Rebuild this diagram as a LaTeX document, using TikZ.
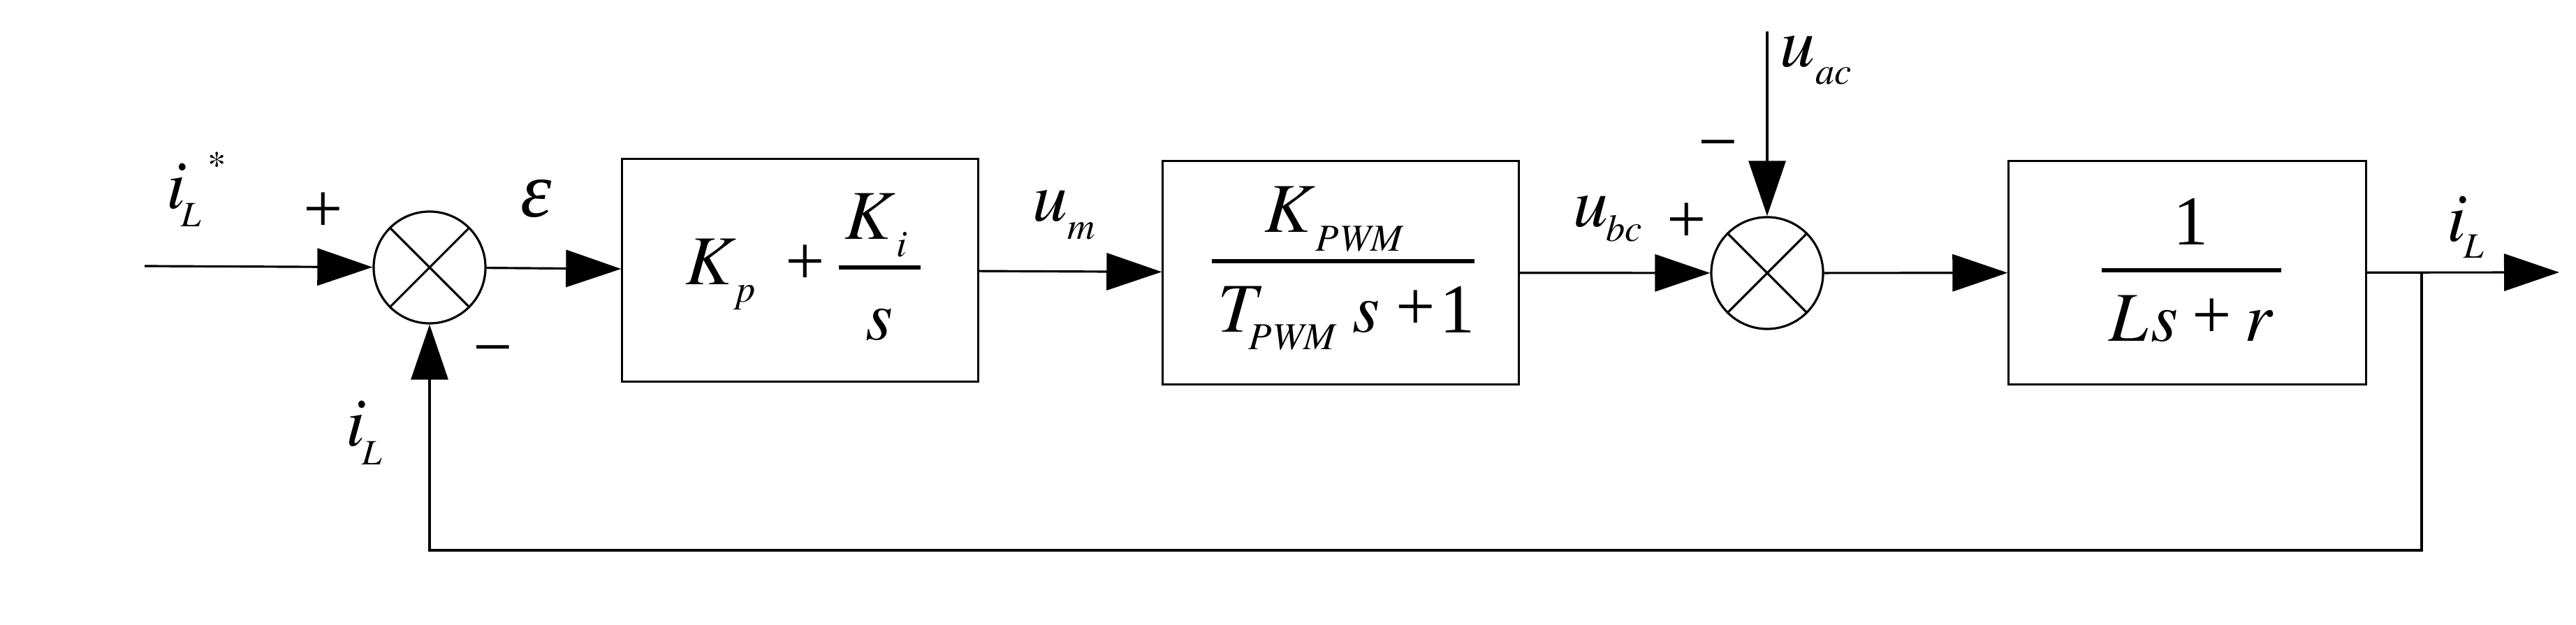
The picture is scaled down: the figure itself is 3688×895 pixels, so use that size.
\documentclass[tikz,border=0pt]{standalone}
\usepackage{fontspec}
\setmainfont{texgyretermes}[Extension=.otf,UprightFont=*-regular,ItalicFont=*-italic,BoldFont=*-bold,BoldItalicFont=*-bolditalic]
\newfontfamily\libfont{Liberation Serif}
\usetikzlibrary{arrows.meta}
\newcommand{\mainsz}{\fontsize{28.5}{28.5}\selectfont}
\newcommand{\subsz}{\fontsize{15.5}{15.5}\selectfont}
\newcommand{\Lsz}{\fontsize{14.5}{14.5}\selectfont}
\begin{document}
\begin{tikzpicture}[x=0.01cm,y=-0.01cm,
  ln/.style={line width=0.9pt},
  arr/.style={line width=0.9pt,-{Triangle[length=7.9mm,width=5.3mm]}},
  blk/.style={draw,line width=0.9pt,inner sep=0,minimum width=5.09cm,minimum height=3.19cm},
  sumj/.style={draw,circle,line width=0.9pt,inner sep=0,minimum size=1.6cm},
  txt/.style={inner sep=0,font=\mainsz\itshape,anchor=base west},
  sub/.style={inner sep=0,font=\subsz\itshape,anchor=base west},
  subL/.style={inner sep=0,font=\Lsz\itshape,anchor=base west},
  sgn/.style={inner sep=0,font=\mainsz\libfont,anchor=base},
  fbar/.style={line width=1.6pt}]
\fill[white] (0,0) rectangle (3688,895);
\useasboundingbox (0,0) rectangle (3688,895);

% blocks
\node[sumj] (s1) at (615,383) {};
\node[blk] (b1) at (1145.5,387) {};
\node[blk] (b2) at (1919.5,390.5) {};
\node[sumj] (s2) at (2530,391) {};
\node[blk,minimum width=5.11cm] (b3) at (3131.5,390.5) {};
\coordinate (in) at (207,381);
\coordinate (out) at (3664,390);
\coordinate (br) at (3467,390);
\coordinate (bl) at (615,788);
\coordinate (uacin) at (2530,45);

% crosses
\draw[ln] (s1.north west) -- (s1.south east) (s1.north east) -- (s1.south west);
\draw[ln] (s2.north west) -- (s2.south east) (s2.north east) -- (s2.south west);

% connectors
\draw[arr] (in) -- (s1);
\draw[arr] (s1) -- (b1);
\draw[arr] (b1) -- (b2);
\draw[arr] (b2) -- (s2);
\draw[arr] (s2) -- (b3);
\draw[arr] (b3) -- (out);
\draw[arr] (br) |- (bl) -- (s1);
\draw[arr] (uacin) -- (s2);

% left labels
\node[txt] (iLs) at (238,299) {i};
\node[subL] (iLsL) at (259,325) {L};
\node[inner sep=0,font=\fontsize{15}{15}\selectfont,anchor=base] (ast) at (311,254) {*};
\node[sgn] (p1) at (463,333) {+};
\node[sgn] (m1) at (706,531) {−};
\node[inner sep=0,font=\fontsize{32}{32}\selectfont\libfont\itshape,anchor=base] (eps) at (768,311) {ε};
\node[txt] (iLf) at (495,639) {i};
\node[subL] (iLfL) at (518,666) {L};

% block 1 content
\node[txt] (Kp) at (981,408) {K};
\node[sub] (Kpp) at (1054,433) {p};
\node[sgn] (b1plus) at (1153,408) {+};
\draw[fbar] (1201,383) -- (1318,383);
\node[txt] (Ki) at (1209,343) {K};
\node[sub] (Kii) at (1283,368) {i};
\node[txt,anchor=base] (sden) at (1259,487) {s};

% u_m
\node[txt] (um) at (1478,317) {u};
\node[sub] (umm) at (1528,343) {m};

% block 2 content
\draw[fbar] (1735,374) -- (2111,374);
\node[txt] (Kpwm) at (1810,333) {K};
\node[sub] (Kpwms) at (1883,360) {PWM};
\node[txt] (Tpwm) at (1743,476) {T};
\node[sub] (Tpwms) at (1787,501) {PWM};
\node[txt] (s2t) at (1936,476) {s};
\node[sgn] (plus2) at (2027,473) {+};
\node[sgn] (one2) at (2087,477) {1};

% u_bc, u_ac, signs
\node[txt] (ubc) at (2252,325) {u};
\node[sub] (ubcs) at (2299,346) {bc};
\node[sgn] (p2) at (2415,348) {+};
\node[sgn] (m2) at (2460,237) {−};
\node[txt] (uac) at (2548,96) {u};
\node[sub] (uacs) at (2599,121) {ac};

% block 3 content
\node[sgn] (one3) at (3137,351) {1};
\draw[fbar] (3009,387) -- (3266,387);
\node[txt] (L3) at (3019,489) {L};
\node[txt] (s3) at (3079,489) {s};
\node[sgn] (p3) at (3167,485) {+};
\node[txt] (r3) at (3213,489) {r};

% output label
\node[txt] (iLo) at (3503,346) {i};
\node[subL] (iLoL) at (3527,370) {L};
\end{tikzpicture}
\end{document}
